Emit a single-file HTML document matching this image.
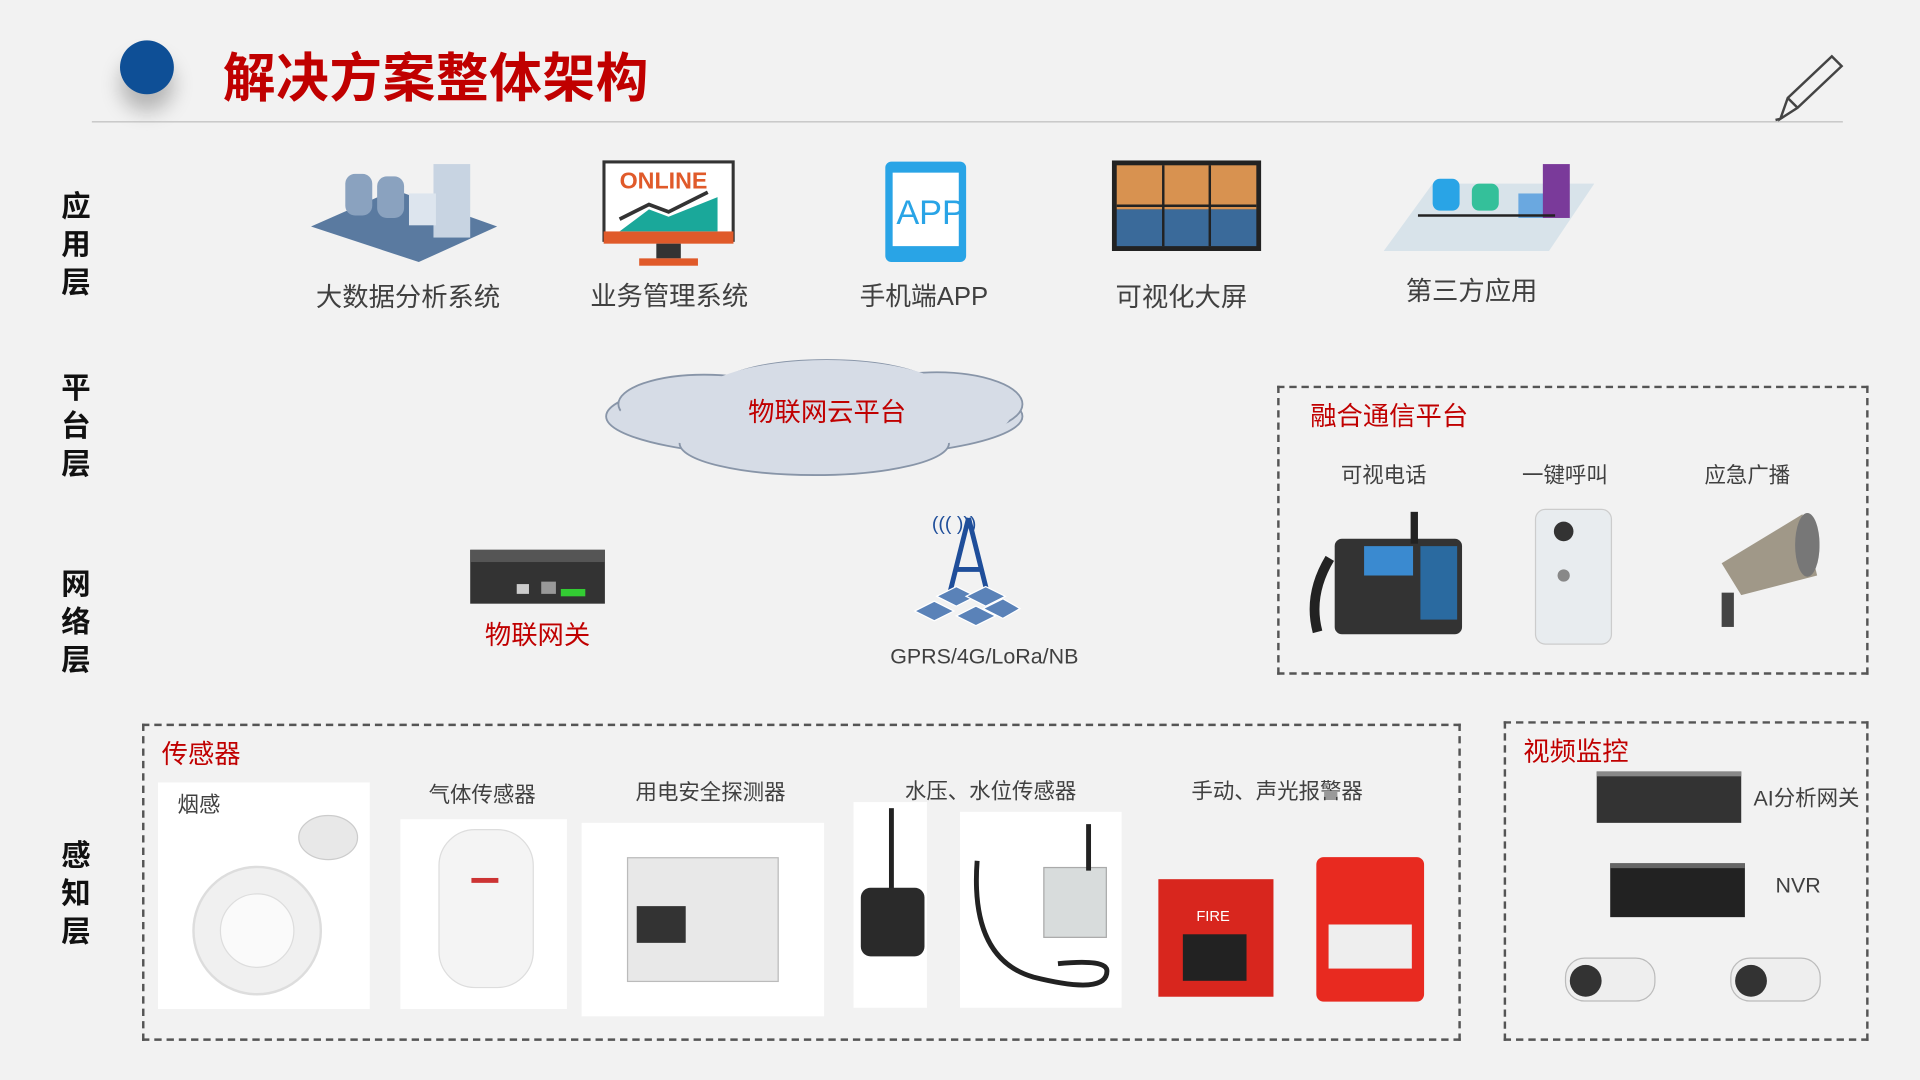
<!DOCTYPE html>
<html><head><meta charset="utf-8"><style>
html,body{margin:0;padding:0;width:1920px;height:1080px;overflow:hidden;background:#f2f2f2}
#s{position:absolute;left:0;top:0;width:1568px;height:882px;transform:scale(1.22449);transform-origin:0 0;font-family:"Liberation Sans","Noto Sans CJK SC",sans-serif}
.a{position:absolute}
.t{position:absolute;white-space:nowrap;color:#404040}
.lay{position:absolute;left:48px;width:28px;font-size:24px;font-weight:bold;line-height:31px;color:#111;text-align:center}
.box{position:absolute;border:2px dashed #555}
.w{position:absolute;background:#fff}
.red{color:#c00000}
</style></head><body><div id="s">
<div class="a" style="left:98px;top:33px;width:44px;height:44px;border-radius:50%;background:#0e4f96;box-shadow:0 14px 16px rgba(0,0,0,.25)"></div>
<div class="t red" style="left:182px;top:30px;font-size:43px;font-weight:bold;color:#c00000;letter-spacing:0.5px">解决方案整体架构</div>
<div class="a" style="left:75px;top:99px;width:1430px;height:1px;background:#bfbfbf"></div>
<svg class="a" style="left:1448px;top:42px" width="60" height="60"><path d="M6 55 L12 38 L48 4 L56 12 L20 46 Z M12 38 L20 46 M6 55 L2 56" fill="none" stroke="#444" stroke-width="2"/></svg>

<div class="lay" style="top:154px">应<br>用<br>层</div>
<div class="lay" style="top:302px">平<br>台<br>层</div>
<div class="lay" style="top:462px">网<br>络<br>层</div>
<div class="lay" style="top:684px">感<br>知<br>层</div>

<svg class="a" style="left:252px;top:130px" width="156" height="86"><polygon points="2,55 70,25 154,55 90,84" fill="#5a7aa0"/><rect x="30" y="12" width="22" height="34" fill="#8aa2bf" rx="8"/><rect x="56" y="14" width="22" height="34" fill="#8aa2bf" rx="8"/><rect x="102" y="4" width="30" height="60" fill="#c8d4e2"/><rect x="82" y="28" width="22" height="26" fill="#dde5ee"/></svg>
<div class="t" style="left:258px;top:226px;font-size:21.5px">大数据分析系统</div>
<svg class="a" style="left:492px;top:131px" width="108" height="88"><rect x="1" y="1" width="106" height="64" fill="#fff" stroke="#333" stroke-width="3"/><rect x="1" y="58" width="106" height="10" fill="#e05a2a"/><text x="14" y="23" font-size="19" font-weight="bold" fill="#e05a2a" font-family="Liberation Sans">ONLINE</text><path d="M14 48 L38 36 L54 42 L86 26" stroke="#333" stroke-width="3" fill="none"/><polygon points="14,58 38,40 54,46 94,30 94,58" fill="#1aa89a"/><rect x="44" y="68" width="20" height="12" fill="#333"/><rect x="30" y="80" width="48" height="6" fill="#e05a2a"/></svg>
<div class="t" style="left:482px;top:225px;font-size:21.5px">业务管理系统</div>
<svg class="a" style="left:722px;top:131px" width="68" height="84"><rect x="1" y="1" width="66" height="82" rx="5" fill="#29a4e6"/><rect x="7" y="10" width="54" height="60" fill="#fff"/><text x="10" y="52" font-size="28" fill="#29a4e6" font-family="Liberation Sans">APP</text></svg>
<div class="t" style="left:702px;top:226px;font-size:21px">手机端APP</div>
<svg class="a" style="left:908px;top:131px" width="122" height="74"><rect width="122" height="74" fill="#222"/><rect x="4" y="4" width="114" height="36" fill="#d89250"/><rect x="4" y="40" width="114" height="30" fill="#3a6a9a"/><path d="M42 4V70M80 4V70M4 37H118" stroke="#222" stroke-width="2"/></svg>
<div class="t" style="left:911px;top:226px;font-size:21.5px">可视化大屏</div>
<svg class="a" style="left:1130px;top:130px" width="172" height="80"><polygon points="0,75 40,20 172,20 135,75" fill="#d8e3ea"/><rect x="40" y="16" width="22" height="26" rx="6" fill="#29a4e6"/><rect x="72" y="20" width="22" height="22" rx="6" fill="#34c09a"/><rect x="110" y="28" width="22" height="20" fill="#6aa8e0"/><rect x="130" y="4" width="22" height="44" fill="#7a3a9a"/><path d="M28 46H140" stroke="#222" stroke-width="2"/></svg>
<div class="t" style="left:1148px;top:221px;font-size:21.5px">第三方应用</div>

<svg class="a" style="left:485px;top:290px" width="362" height="102"><g fill="#d6dce6" stroke="#8895a8" stroke-width="1.5"><ellipse cx="180" cy="50" rx="170" ry="34"/><ellipse cx="90" cy="40" rx="70" ry="24"/><ellipse cx="190" cy="28" rx="90" ry="24"/><ellipse cx="280" cy="40" rx="70" ry="26"/><ellipse cx="180" cy="72" rx="110" ry="26"/></g><g fill="#d6dce6"><ellipse cx="180" cy="50" rx="160" ry="30"/><ellipse cx="190" cy="40" rx="110" ry="36"/></g></svg>
<div class="t red" style="left:611px;top:320px;font-size:21.5px">物联网云平台</div>

<svg class="a" style="left:382px;top:447px" width="114" height="48"><rect x="2" y="2" width="110" height="44" fill="#333"/><rect x="2" y="2" width="110" height="10" fill="#555"/><rect x="40" y="30" width="10" height="8" fill="#ccc"/><rect x="60" y="28" width="12" height="10" fill="#999"/><rect x="76" y="34" width="20" height="6" fill="#3c3"/></svg>
<div class="t red" style="left:396px;top:502px;font-size:21.5px">物联网关</div>
<svg class="a" style="left:745px;top:415px" width="90" height="105"><text x="16" y="18" font-size="16" fill="#1f4e9a" font-family="Liberation Sans">((( )))</text><path d="M46 8 L30 72 M46 8 L62 72 M36 50H56" stroke="#1f4e9a" stroke-width="4" fill="none"/><g fill="#5a82b8" stroke="#fff"><polygon points="20,72 36,64 52,72 36,80"/><polygon points="44,72 60,64 76,72 60,80"/><polygon points="2,84 18,76 34,84 18,92"/><polygon points="36,88 52,80 68,88 52,96"/><polygon points="58,82 74,74 88,82 74,90"/></g></svg>
<div class="t" style="left:727px;top:526px;font-size:17.5px">GPRS/4G/LoRa/NB</div>

<div class="box" style="left:1043px;top:315px;width:479px;height:232px"></div>
<div class="t red" style="left:1070px;top:323px;font-size:21.5px">融合通信平台</div>
<div class="t" style="left:1095px;top:375px;font-size:17.5px">可视电话</div>
<div class="t" style="left:1243px;top:375px;font-size:17.5px">一键呼叫</div>
<div class="t" style="left:1392px;top:375px;font-size:17.5px">应急广播</div>
<svg class="a" style="left:1066px;top:416px" width="130" height="108"><rect x="24" y="24" width="104" height="78" rx="6" fill="#333"/><rect x="48" y="30" width="40" height="24" fill="#3a8ad0"/><rect x="94" y="30" width="30" height="60" fill="#2a6aa0"/><path d="M20 40 Q2 70 10 100" stroke="#222" stroke-width="8" fill="none"/><rect x="86" y="2" width="6" height="26" fill="#222"/></svg>
<svg class="a" style="left:1252px;top:414px" width="66" height="114"><rect x="2" y="2" width="62" height="110" rx="8" fill="#e8ecef" stroke="#ccc"/><circle cx="25" cy="20" r="8" fill="#333"/><circle cx="25" cy="56" r="5" fill="#888"/></svg>
<svg class="a" style="left:1392px;top:412px" width="94" height="104"><polygon points="14,48 80,8 92,58 30,74" fill="#a09888"/><ellipse cx="84" cy="33" rx="10" ry="26" fill="#777"/><rect x="14" y="72" width="10" height="28" fill="#444"/></svg>

<div class="box" style="left:116px;top:591px;width:1073px;height:255px"></div>
<div class="t red" style="left:132px;top:599px;font-size:21.5px">传感器</div>
<div class="w" style="left:129px;top:639px;width:173px;height:185px"></div>
<div class="t" style="left:145px;top:644px;font-size:17.5px">烟感</div>
<svg class="a" style="left:150px;top:660px" width="150" height="160"><ellipse cx="118" cy="24" rx="24" ry="18" fill="#e8e8e8" stroke="#ccc"/><circle cx="60" cy="100" r="52" fill="#f0f0f0" stroke="#ddd" stroke-width="2"/><circle cx="60" cy="100" r="30" fill="#fafafa" stroke="#ddd"/></svg>
<div class="t" style="left:350px;top:636px;font-size:17.5px">气体传感器</div>
<div class="w" style="left:327px;top:669px;width:136px;height:155px"></div>
<div class="a" style="left:358px;top:677px;width:76px;height:128px;border-radius:30px;background:#f4f4f4;border:1px solid #ddd"></div>
<div class="a" style="left:385px;top:717px;width:22px;height:4px;background:#c33"></div>
<div class="t" style="left:519px;top:634px;font-size:17.5px">用电安全探测器</div>
<div class="w" style="left:475px;top:672px;width:198px;height:158px"></div>
<div class="a" style="left:512px;top:700px;width:122px;height:100px;background:#e8e8e8;border:1px solid #bbb"></div>
<div class="a" style="left:520px;top:740px;width:40px;height:30px;background:#333"></div>
<div class="t" style="left:739px;top:633px;font-size:17.5px">水压、水位传感器</div>
<div class="w" style="left:697px;top:655px;width:60px;height:168px"></div>
<div class="a" style="left:726px;top:660px;width:4px;height:70px;background:#222"></div>
<div class="a" style="left:703px;top:725px;width:52px;height:56px;border-radius:8px;background:#2a2a2a"></div>
<div class="w" style="left:784px;top:663px;width:132px;height:160px"></div>
<div class="a" style="left:852px;top:708px;width:50px;height:56px;background:#d8dcdc;border:1px solid #aaa"></div>
<svg class="a" style="left:784px;top:663px" width="132" height="160"><path d="M14 40 Q8 120 60 135 Q120 150 120 130 Q120 120 80 124 M105 10V48" stroke="#222" stroke-width="4" fill="none"/></svg>
<div class="t" style="left:973px;top:633px;font-size:17.5px">手动、声光报警器</div>
<div class="a" style="left:946px;top:718px;width:94px;height:96px;background:#d8261e"></div>
<div class="a" style="left:966px;top:763px;width:52px;height:38px;background:#222"></div>
<div class="t" style="left:977px;top:741px;font-size:12px;color:#fff">FIRE</div>
<div class="a" style="left:1075px;top:700px;width:88px;height:118px;background:#e82a20;border-radius:6px"></div>
<div class="a" style="left:1085px;top:755px;width:68px;height:36px;background:#eee"></div>

<div class="box" style="left:1228px;top:589px;width:294px;height:257px"></div>
<div class="t red" style="left:1244px;top:597px;font-size:21.5px">视频监控</div>
<div class="a" style="left:1304px;top:630px;width:118px;height:38px;background:#333;border-top:4px solid #888"></div>
<div class="t" style="left:1432px;top:639px;font-size:17.5px">AI分析网关</div>
<div class="a" style="left:1315px;top:705px;width:110px;height:40px;background:#222;border-top:4px solid #666"></div>
<div class="t" style="left:1450px;top:713px;font-size:17.5px">NVR</div>
<div class="a" style="left:1278px;top:782px;width:72px;height:34px;border-radius:16px;background:#eee;border:1px solid #bbb"></div>
<div class="a" style="left:1282px;top:788px;width:26px;height:26px;border-radius:50%;background:#333"></div>
<div class="a" style="left:1413px;top:782px;width:72px;height:34px;border-radius:16px;background:#eee;border:1px solid #bbb"></div>
<div class="a" style="left:1417px;top:788px;width:26px;height:26px;border-radius:50%;background:#333"></div>
</div></body></html>
